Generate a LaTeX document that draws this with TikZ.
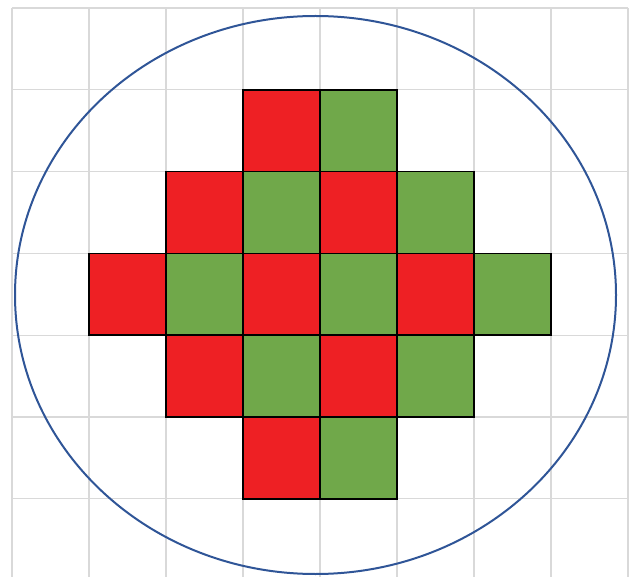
\documentclass[tikz,border=0pt]{standalone}
\usetikzlibrary{calc}
\definecolor{gridline}{HTML}{D9D9D9}
\definecolor{cellred}{HTML}{EE2024}
\definecolor{cellgreen}{HTML}{70A84A}
\definecolor{rim}{HTML}{2F5597}

\begin{document}
\begin{tikzpicture}[
    x=1pt,
    y=-1pt,
    gridln/.style={draw=gridline, line width=1.1pt},
    cell/.style={draw=black, line width=1.6pt},
    rimline/.style={draw=rim, line width=2pt}
]

\useasboundingbox (0,0) rectangle (632,577);

% background grid
\foreach \i in {0,...,8}
    \draw[gridln] ({12+77*\i},8) -- ({12+77*\i},577);
\foreach \j in {0,...,6}
    \draw[gridln] (12,{8+81.8*\j}) -- (628,{8+81.8*\j});

% checkered cells: row / first column / last column
\foreach \r/\a/\b in {1/3/4, 2/2/5, 3/1/6, 4/2/5, 5/3/4}{
    \foreach \c in {\a,...,\b}{
        \pgfmathtruncatemacro{\odd}{mod(\r+\c,2)}
        \ifnum\odd=1 \def\cellcol{cellgreen}\else\def\cellcol{cellred}\fi
        \draw[cell, fill=\cellcol] ({12+77*\c},{8+81.8*\r}) rectangle ({89+77*\c},{8+81.8*(\r+1)});
    }
}

% outer ellipse
\draw[rimline] (315.5,295) ellipse [x radius=300.5pt, y radius=279pt];

\end{tikzpicture}
\end{document}
